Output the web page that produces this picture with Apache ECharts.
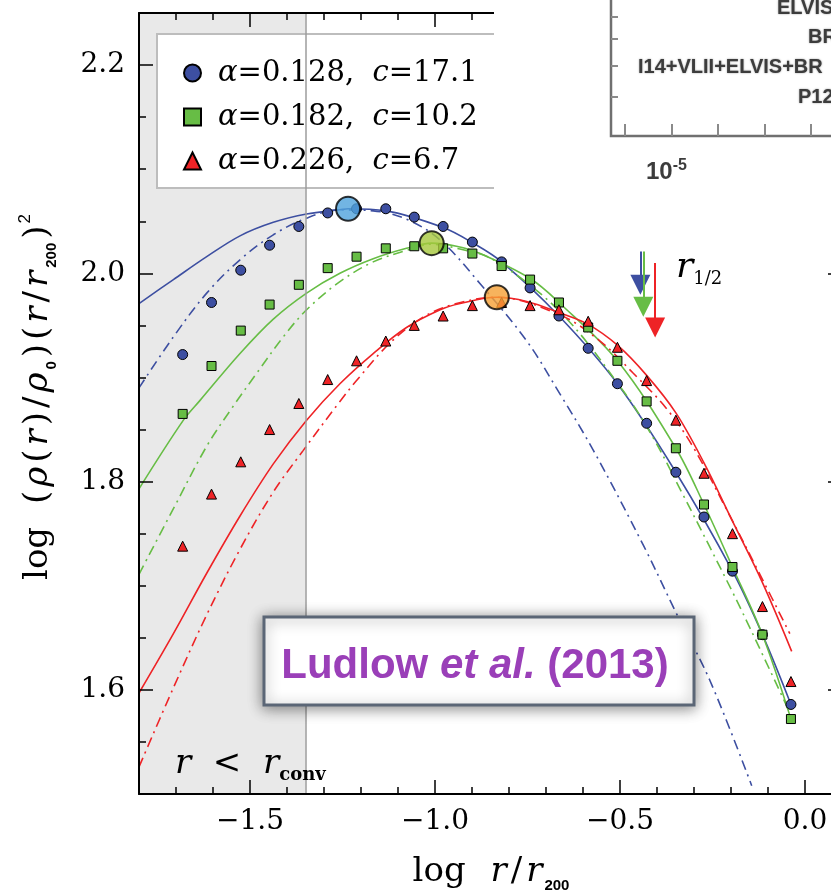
<!DOCTYPE html>
<html lang="en">
<head>
<meta charset="UTF-8">
<title>Ludlow et al. (2013) - log rho r^2 profiles</title>
<script src="https://cdn.jsdelivr.net/npm/echarts@6/dist/echarts.min.js"></script>
<style>html,body{margin:0;padding:0;background:#fff;}</style>
</head>
<body>
<div id="box" style="width:831px;height:891px;"></div>
<script>
// simulated profile points (log r/r200)
var pointX = [-1.682, -1.604, -1.525, -1.447, -1.368, -1.290, -1.212, -1.133, -1.056, -0.978, -0.899,
              -0.820, -0.743, -0.665, -0.586, -0.507, -0.428, -0.349, -0.273, -0.196, -0.115, -0.038];
var blueY  = [1.922, 1.972, 2.003, 2.027, 2.045, 2.058, 2.062, 2.062, 2.054, 2.045, 2.030,
              2.011, 1.986, 1.959, 1.928, 1.894, 1.856, 1.809, 1.766, 1.714, 1.653, 1.586];
var greenY = [1.865, 1.911, 1.945, 1.970, 1.989, 2.005, 2.016, 2.024, 2.026, 2.024, 2.019,
              2.007, 1.994, 1.972, 1.948, 1.916, 1.877, 1.832, 1.778, 1.718, 1.653, 1.572];
var redY   = [1.738, 1.788, 1.819, 1.850, 1.875, 1.898, 1.916, 1.935, 1.950, 1.959, 1.969,
              1.972, 1.969, 1.965, 1.954, 1.929, 1.897, 1.859, 1.808, 1.750, 1.680, 1.608];

// fitted curves (solid = Einasto, dash-dot = NFW)
var blueSolidX = [-1.8, -1.707, -1.617, -1.527, -1.437, -1.347, -1.257, -1.235, -1.133, -0.978, -0.897, -0.820, -0.665, -0.507, -0.349, -0.196, -0.115, -0.038];
var blueSolidY = [1.971, 1.994, 2.016, 2.036, 2.049, 2.057, 2.061, 2.062, 2.060, 2.044, 2.029, 2.011, 1.959, 1.894, 1.809, 1.714, 1.653, 1.586];
var blueDashX = [-1.8, -1.707, -1.617, -1.527, -1.437, -1.347, -1.257, -1.167, -1.077, -0.986, -0.878, -0.752, -0.662, -0.572, -0.437, -0.347, -0.257, -0.144];
var blueDashY = [1.890, 1.939, 1.981, 2.013, 2.037, 2.053, 2.061, 2.060, 2.052, 2.032, 1.990, 1.935, 1.884, 1.830, 1.739, 1.673, 1.609, 1.508];
var greenSolidX = [-1.8, -1.680, -1.635, -1.527, -1.437, -1.347, -1.257, -1.167, -1.077, -1.009, -0.942, -0.878, -0.743, -0.665, -0.507, -0.349, -0.273, -0.196, -0.115, -0.038];
var greenSolidY = [1.793, 1.859, 1.878, 1.923, 1.956, 1.981, 2.000, 2.014, 2.024, 2.029, 2.026, 2.019, 1.995, 1.972, 1.916, 1.832, 1.778, 1.718, 1.653, 1.572];
var greenDashX = [-1.8, -1.707, -1.617, -1.552, -1.482, -1.410, -1.347, -1.257, -1.167, -1.077, -1.009, -0.942, -0.842, -0.662, -0.491, -0.410, -0.338, -0.257, -0.167, -0.041];
var greenDashY = [1.711, 1.774, 1.834, 1.869, 1.904, 1.939, 1.965, 1.992, 2.011, 2.022, 2.028, 2.024, 2.013, 1.963, 1.887, 1.842, 1.793, 1.737, 1.673, 1.578];
var redSolidX = [-1.8, -1.707, -1.617, -1.527, -1.437, -1.347, -1.257, -1.167, -1.077, -0.986, -0.932, -0.833, -0.752, -0.662, -0.586, -0.507, -0.428, -0.349, -0.273, -0.196, -0.115, -0.036];
var redSolidY = [1.597, 1.654, 1.712, 1.767, 1.817, 1.859, 1.894, 1.923, 1.948, 1.965, 1.971, 1.977, 1.973, 1.962, 1.951, 1.931, 1.902, 1.866, 1.818, 1.762, 1.703, 1.637];
var redDashX = [-1.8, -1.707, -1.617, -1.527, -1.437, -1.356, -1.257, -1.212, -1.122, -1.032, -0.942, -0.833, -0.662, -0.554, -0.464, -0.374, -0.302, -0.203, -0.122, -0.041];
var redDashY = [1.526, 1.602, 1.672, 1.735, 1.790, 1.830, 1.877, 1.897, 1.933, 1.958, 1.971, 1.977, 1.960, 1.935, 1.904, 1.870, 1.833, 1.767, 1.711, 1.654];

// r_-2 peaks (big circles)
var peakX = [-1.235, -1.009, -0.833];
var peakY = [2.062, 2.029, 1.977];
// r_1/2 arrows
var halfX = [-0.445, -0.437, -0.405];
var halfTop = [2.021, 2.021, 2.010];
var halfEnd = [1.989, 1.968, 1.948];

var rConv = -1.35;
var xTicks = [-1.5, -1.0, -0.5, 0.0];
var yTicks = [1.6, 1.8, 2.0, 2.2];
var alphas = ['0.128', '0.182', '0.226'];
var concs = ['17.1', '10.2', '6.7'];

var BLUE = '#3d4fa1', GREEN = '#67bd45', RED = '#ee2326';
var PEAKCOL = ['#4fa3dc', '#a6c83c', '#f5a034'];
var SERIF = 'DejaVu Serif';
var DASHDOT = [10, 5, 2, 5];

function pairs(xs, ys) { return xs.map(function (x, i) { return [x, ys[i]]; }); }
function fmt(v) { return (v < 0 ? '\u2212' : '') + Math.abs(v).toFixed(1); }

var names = alphas.map(function (a, i) { return '\u03b1=' + a + ',  c=' + concs[i]; });

var tickLine = {color: '#000', width: 1.5};
function minorAxis(pos, isX) {
    return {
        type: 'value', position: pos, min: isX ? -1.8 : 1.5, max: isX ? 0.1 : 2.25,
        interval: isX ? 0.1 : 0.05, z: 10,
        axisLine: {show: true, onZero: false, lineStyle: {color: '#000', width: 2}},
        axisTick: {inside: true, length: 7, lineStyle: tickLine},
        axisLabel: {show: false}, splitLine: {show: false}
    };
}
function majorAxis(pos, isX, labels) {
    var vals = isX ? xTicks : yTicks;
    return {
        type: 'value', position: pos, min: isX ? -1.8 : 1.5, max: isX ? 0.1 : 2.25, z: 10,
        axisLine: {show: false, onZero: false},
        axisTick: {inside: true, length: 14, customValues: vals, lineStyle: tickLine},
        axisLabel: {show: labels, customValues: vals, formatter: fmt, fontFamily: SERIF,
                    fontSize: 28, color: '#000', margin: 14},
        splitLine: {show: false}
    };
}

function curve(name, xs, ys, color, dashed, extra) {
    var s = {
        name: name, type: 'line', data: pairs(xs, ys), smooth: 0.35,
        showSymbol: false, symbol: 'none', z: 2, silent: true,
        lineStyle: {color: color, width: 1.6, type: dashed ? DASHDOT : 'solid'}
    };
    if (extra) s.markLine = extra;
    return s;
}
function arrow(i, color) {
    return {
        silent: true, symbol: ['none', 'triangle'], symbolSize: 20,
        label: {show: false}, lineStyle: {color: color, width: 2, type: 'solid'},
        itemStyle: {color: color},
        data: [[{coord: [halfX[i], halfTop[i]]}, {coord: [halfX[i], halfEnd[i]]}]]
    };
}
function points(i, ys, color, symbol, size) {
    return {
        name: names[i], type: 'scatter', data: pairs(pointX, ys), symbol: symbol, symbolSize: size,
        z: 3, itemStyle: {color: color, borderColor: '#000', borderWidth: 1, opacity: 1}
    };
}

var txt = function (family, size, extra) {
    var o = {fontFamily: family, fontSize: size, fill: '#000'};
    for (var k in extra) o[k] = extra[k];
    return o;
};

var chart = echarts.init(document.getElementById('box'));
chart.setOption({
    animation: false,
    backgroundColor: '#fff',
    grid: {left: 139, top: 13, width: 703, height: 781, outerBoundsMode: 'none', containLabel: false},
    xAxis: [minorAxis('bottom', true), majorAxis('bottom', true, true),
            minorAxis('top', true), majorAxis('top', true, false)],
    yAxis: [minorAxis('left', false), majorAxis('left', false, true),
            minorAxis('right', false), majorAxis('right', false, false)],
    legend: {
        orient: 'vertical', left: 183, top: 58, data: names, z: 5,
        padding: 0, itemGap: 14, itemWidth: 17, itemHeight: 17,
        selectedMode: false,
        formatter: function (n) {
            var i = names.indexOf(n);
            return '{i|\u03b1}=' + alphas[i] + ',  {i|c}=' + concs[i];
        },
        textStyle: {fontFamily: SERIF, fontSize: 29, color: '#000', lineHeight: 30, padding: [0, 0, 0, 12],
            rich: {i: {fontFamily: SERIF, fontSize: 29, fontStyle: 'italic', color: '#000'}}}
    },
    series: [
        {
            type: 'scatter', data: [], z: 1, silent: true,
            markArea: {silent: true, itemStyle: {color: '#e9e9e9'}, data: [[{xAxis: -1.8}, {xAxis: rConv}]]},
            markLine: {silent: true, symbol: 'none', label: {show: false},
                lineStyle: {color: '#9c9c9c', width: 1.5, type: 'solid'}, data: [{xAxis: rConv}]}
        },
        curve('bs', blueSolidX, blueSolidY, BLUE, false, arrow(0, BLUE)),
        curve('bd', blueDashX, blueDashY, BLUE, true),
        curve('gs', greenSolidX, greenSolidY, GREEN, false, arrow(1, GREEN)),
        curve('gd', greenDashX, greenDashY, GREEN, true),
        curve('rs', redSolidX, redSolidY, RED, false, arrow(2, RED)),
        curve('rd', redDashX, redDashY, RED, true),
        points(0, blueY, BLUE, 'circle', 10),
        points(1, greenY, GREEN, 'rect', 9),
        points(2, redY, RED, 'triangle', 10),
        {
            type: 'scatter', z: 4, silent: true, symbolSize: 24,
            data: peakX.map(function (x, i) {
                return {value: [x, peakY[i]], itemStyle: {color: PEAKCOL[i]}};
            }),
            itemStyle: {borderColor: '#000', borderWidth: 2}
        }
    ],
    graphic: [
        // legend frame
        {type: 'rect', z: 3, shape: {x: 157, y: 34, width: 420, height: 154},
            style: {fill: '#fff', stroke: '#bdbdbd', lineWidth: 2}},
        // axis titles
        {type: 'text', x: 38, y: 398, rotation: Math.PI / 2, z: 50, style: {
            text: '{t|log}{g| }{t|(}{i|\u03c1}{t|(}{i|r}{t|)}{t|/}{i|\u03c1}{s|0}{t|)}{t|(}{i|r}{t|/}{i|r}{s|200}{t|)}{p|2}',
            align: 'center', verticalAlign: 'middle',
            rich: {
                t: txt(SERIF, 34, {lineHeight: 42, padding: [0, 2, 0, 2]}),
                g: txt(SERIF, 34, {lineHeight: 42, padding: [0, 4, 0, 4]}),
                i: txt(SERIF, 34, {fontStyle: 'italic', lineHeight: 42, padding: [0, 2, 0, 2]}),
                s: txt('Liberation Sans', 15, {fontWeight: 'bold', lineHeight: 16, verticalAlign: 'bottom', padding: [0, 2, 0, 1]}),
                p: txt('Liberation Sans', 17, {lineHeight: 16, verticalAlign: 'top'})
            }}},
        {type: 'text', x: 490, y: 872, z: 50, style: {
            text: '{t|log}{g| }{i|r}{t|/}{i|r}{s|200}',
            align: 'center', verticalAlign: 'middle',
            rich: {
                t: txt(SERIF, 34, {lineHeight: 42, padding: [0, 2, 0, 2]}),
                g: txt(SERIF, 34, {lineHeight: 42, padding: [0, 5, 0, 5]}),
                i: txt(SERIF, 34, {fontStyle: 'italic', lineHeight: 42, padding: [0, 2, 0, 2]}),
                s: txt('Liberation Sans', 15, {fontWeight: 'bold', lineHeight: 16, verticalAlign: 'bottom'})
            }}},
        // r < r_conv
        {type: 'text', x: 175, y: 764, z: 50, style: {
            text: '{i|r}{t|  <  }{i|r}{b|conv}', align: 'left', verticalAlign: 'middle',
            rich: {
                t: txt(SERIF, 34, {lineHeight: 40}),
                i: txt(SERIF, 34, {fontStyle: 'italic', lineHeight: 40}),
                b: txt(SERIF, 18, {fontWeight: 'bold', lineHeight: 18, verticalAlign: 'bottom'})
            }}},
        // r_1/2 label
        {type: 'text', x: 676, y: 268, z: 50, style: {
            text: '{i|r}{s|1/2}', align: 'left', verticalAlign: 'middle',
            rich: {
                i: txt(SERIF, 36, {fontStyle: 'italic', lineHeight: 40}),
                s: txt(SERIF, 18, {lineHeight: 18, verticalAlign: 'bottom'})
            }}},
        // Ludlow box
        {type: 'rect', z: 60, shape: {x: 264, y: 617, width: 430, height: 88},
            style: {fill: '#fff', stroke: '#5b6676', lineWidth: 3,
                shadowBlur: 14, shadowColor: 'rgba(0,0,0,0.45)', shadowOffsetX: 0, shadowOffsetY: 2}},
        {type: 'text', x: 475, y: 666, z: 61, style: {
            text: '{b|Ludlow }{bi|et al.}{b| (2013)}', align: 'center', verticalAlign: 'middle',
            rich: {
                b: {fontFamily: 'Liberation Sans', fontWeight: 'bold', fontSize: 42, fill: '#9a3fb8'},
                bi: {fontFamily: 'Liberation Sans', fontWeight: 'bold', fontStyle: 'italic', fontSize: 42, fill: '#9a3fb8'}
            }}},
        // pasted inset from another figure (top right)
        {type: 'rect', z: 80, shape: {x: 494, y: 0, width: 337, height: 196}, style: {fill: '#fff'}},
        {type: 'polyline', z: 81, shape: {points: [[611, 0], [611, 136], [831, 136]]},
            style: {stroke: '#707070', lineWidth: 2.5, fill: null}},
        {type: 'line', z: 81, shape: {x1: 625, y1: 124, x2: 625, y2: 136}, style: {stroke: '#8a8a8a', lineWidth: 2}},
        {type: 'line', z: 81, shape: {x1: 672, y1: 124, x2: 672, y2: 136}, style: {stroke: '#8a8a8a', lineWidth: 2}},
        {type: 'line', z: 81, shape: {x1: 718, y1: 124, x2: 718, y2: 136}, style: {stroke: '#8a8a8a', lineWidth: 2}},
        {type: 'line', z: 81, shape: {x1: 765, y1: 124, x2: 765, y2: 136}, style: {stroke: '#8a8a8a', lineWidth: 2}},
        {type: 'line', z: 81, shape: {x1: 811, y1: 124, x2: 811, y2: 136}, style: {stroke: '#8a8a8a', lineWidth: 2}},
        {type: 'line', z: 81, shape: {x1: 611, y1: 17, x2: 618, y2: 17}, style: {stroke: '#8a8a8a', lineWidth: 2}},
        {type: 'line', z: 81, shape: {x1: 611, y1: 39, x2: 618, y2: 39}, style: {stroke: '#8a8a8a', lineWidth: 2}},
        {type: 'line', z: 81, shape: {x1: 611, y1: 66, x2: 618, y2: 66}, style: {stroke: '#8a8a8a', lineWidth: 2}},
        {type: 'line', z: 81, shape: {x1: 611, y1: 97, x2: 618, y2: 97}, style: {stroke: '#8a8a8a', lineWidth: 2}},
        {type: 'text', z: 82, x: 777, y: 8, style: {text: 'ELVIS', font: 'bold 20px "Liberation Sans"', fill: '#3c3c3c', verticalAlign: 'middle', textShadowBlur: 2, textShadowColor: '#999'}},
        {type: 'text', z: 82, x: 808, y: 37, style: {text: 'BR', font: 'bold 20px "Liberation Sans"', fill: '#3c3c3c', verticalAlign: 'middle', textShadowBlur: 2, textShadowColor: '#999'}},
        {type: 'text', z: 82, x: 638, y: 67, style: {text: 'I14+VLII+ELVIS+BR', font: 'bold 20px "Liberation Sans"', fill: '#3c3c3c', verticalAlign: 'middle', textShadowBlur: 2, textShadowColor: '#999'}},
        {type: 'text', z: 82, x: 798, y: 97, style: {text: 'P12', font: 'bold 20px "Liberation Sans"', fill: '#3c3c3c', verticalAlign: 'middle', textShadowBlur: 2, textShadowColor: '#999'}},
        {type: 'text', z: 82, x: 646, y: 172, style: {
            text: '{a|10}{b|-5}', verticalAlign: 'middle',
            rich: {a: {fontFamily: 'Liberation Sans', fontWeight: 'bold', fontSize: 24, lineHeight: 28, fill: '#3c3c3c'},
                   b: {fontFamily: 'Liberation Sans', fontWeight: 'bold', fontSize: 16, lineHeight: 14, verticalAlign: 'top', fill: '#3c3c3c'}}}}
    ]
});
</script>
</body>
</html>
